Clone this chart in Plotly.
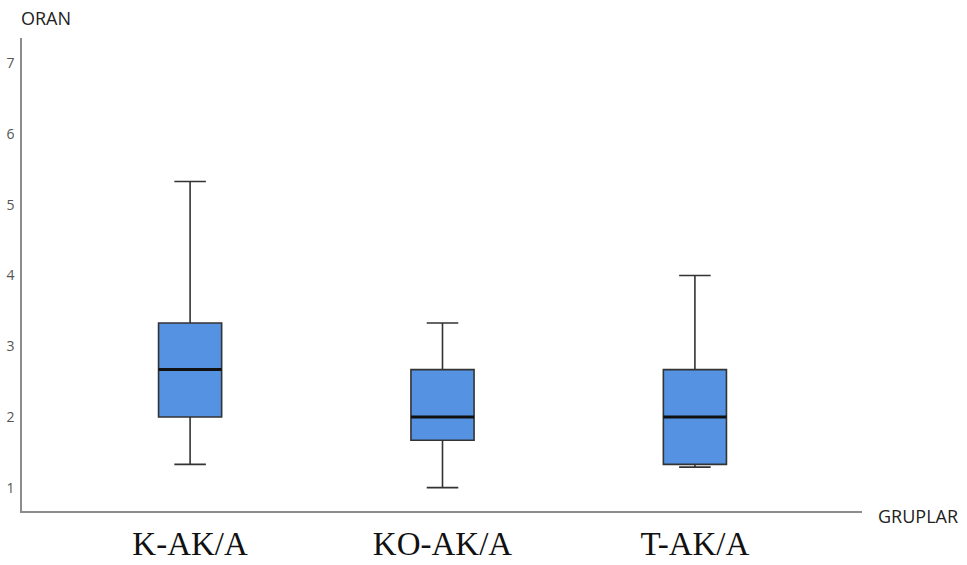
import plotly.graph_objects as go

# Group labels and five-number summaries (ORAN)
groups = ["K-AK/A", "KO-AK/A", "T-AK/A"]
lower_whisker = [1.33, 1.0, 1.29]
q1_vals = [2.0, 1.67, 1.33]
median_vals = [2.67, 2.0, 2.0]
q3_vals = [3.33, 2.67, 2.67]
upper_whisker = [5.33, 3.33, 4.0]
y_ticks = [1, 2, 3, 4, 5, 6, 7]

positions = list(range(len(groups)))
box_w = 0.25

fig = go.Figure()

fig.add_trace(go.Box(
    x=positions,
    q1=q1_vals,
    median=median_vals,
    q3=q3_vals,
    lowerfence=lower_whisker,
    upperfence=upper_whisker,
    width=box_w,
    whiskerwidth=0.5,
    fillcolor="#5592E2",
    line=dict(color="#333333", width=1.6),
    boxpoints=False,
    showlegend=False,
    hoverinfo="skip",
))

# Heavier median bars drawn over each box
mx, my = [], []
for p, m in zip(positions, median_vals):
    mx += [p - box_w / 2, p + box_w / 2, None]
    my += [m, m, None]
fig.add_trace(go.Scatter(
    x=mx, y=my, mode="lines",
    line=dict(color="#111111", width=3),
    showlegend=False, hoverinfo="skip",
))

fig.update_layout(
    width=967, height=565,
    margin=dict(l=22, r=105, t=38, b=54),
    paper_bgcolor="white", plot_bgcolor="white",
    font=dict(family="Open Sans", color="#444444"),
    xaxis=dict(
        range=[-0.666, 2.662],
        tickvals=positions, ticktext=groups,
        tickfont=dict(family="Liberation Serif", size=33, color="#111111"),
        showgrid=False, zeroline=False, automargin=False,
        showline=True, linecolor="#8c8c8c", linewidth=1.5,
        ticks="", ticklabelstandoff=3,
    ),
    yaxis=dict(
        range=[0.67, 7.36],
        tickvals=y_ticks,
        tickfont=dict(family="Open Sans", size=14, color="#555555"),
        showgrid=False, zeroline=False, automargin=False,
        showline=True, linecolor="#8c8c8c", linewidth=1.5,
        ticks="", ticklabelstandoff=3,
    ),
    annotations=[
        dict(text="ORAN", xref="paper", yref="paper", x=-0.003, y=1.0,
             xanchor="left", yanchor="bottom", yshift=6, showarrow=False,
             font=dict(family="Open Sans", size=18, color="#222222")),
        dict(text="GRUPLAR", xref="paper", yref="paper", x=1.0, y=0.0,
             xanchor="left", yanchor="middle", xshift=14, yshift=-5, showarrow=False,
             font=dict(family="Open Sans", size=18, color="#222222")),
    ],
)

fig.write_html("out.html")
